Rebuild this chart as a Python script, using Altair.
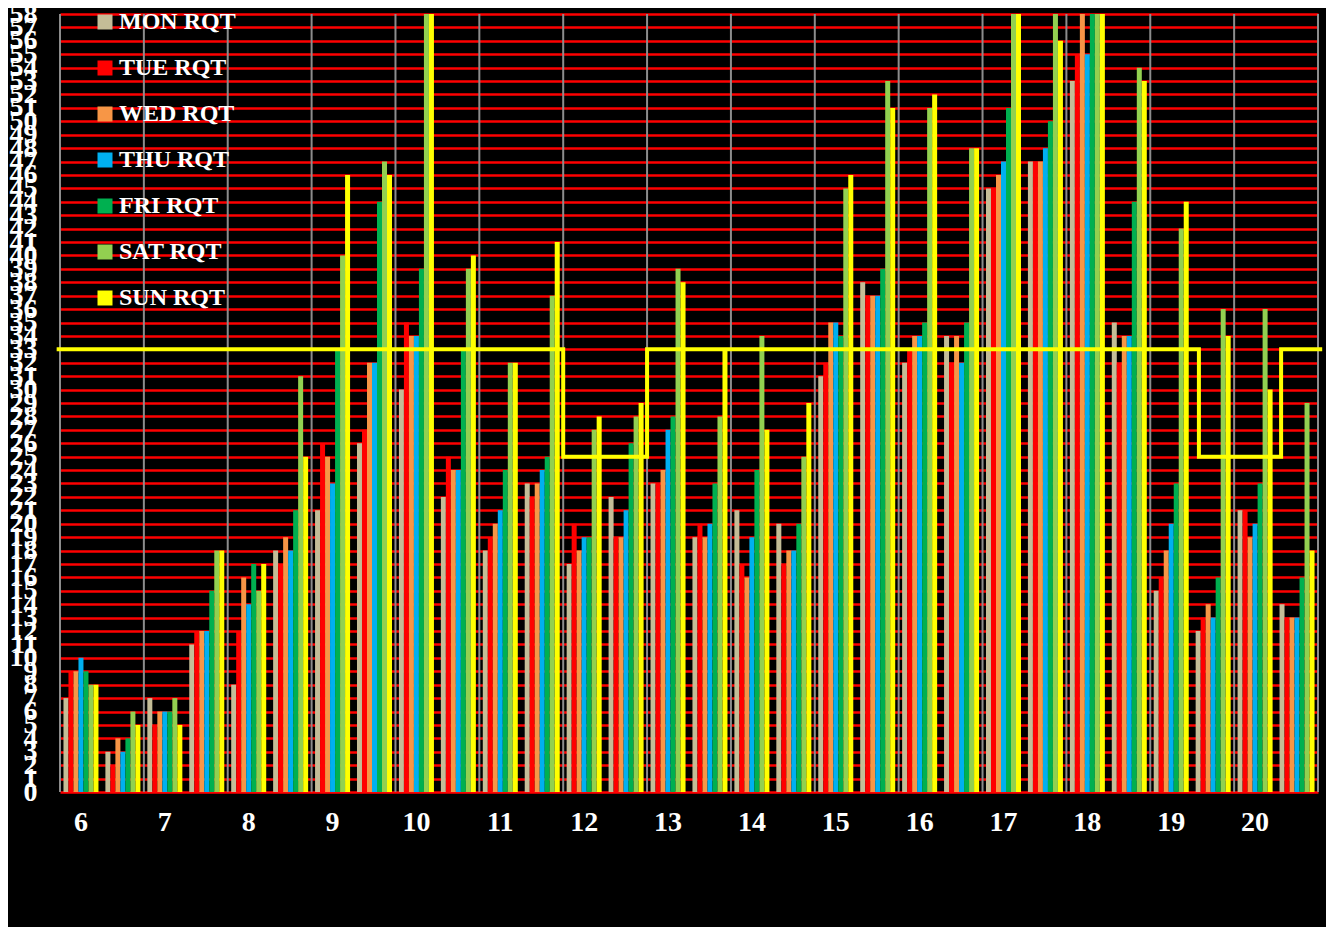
import altair as alt
import pandas as pd

# ---- data ----
slots = ["6:00", "6:30", "7:00", "7:30", "8:00", "8:30", "9:00", "9:30",
         "10:00", "10:30", "11:00", "11:30", "12:00", "12:30", "13:00", "13:30",
         "14:00", "14:30", "15:00", "15:30", "16:00", "16:30", "17:00", "17:30",
         "18:00", "18:30", "19:00", "19:30", "20:00", "20:30"]
days = ["MON RQT", "TUE RQT", "WED RQT", "THU RQT", "FRI RQT", "SAT RQT", "SUN RQT"]
day_colors = ["#C4BD97", "#FF0000", "#F79646", "#00B0F0", "#00B050", "#92D050", "#FFFF00"]

mon = [7, 3, 7, 11, 8, 18, 21, 26, 30, 22, 18, 23, 17, 22, 23, 19, 21, 20, 31, 38, 32, 34, 45, 47, 53, 35, 15, 12, 21, 14]
tue = [9, 2, 5, 12, 12, 17, 26, 27, 35, 25, 19, 22, 20, 19, 23, 20, 17, 17, 32, 37, 33, 32, 45, 47, 55, 32, 16, 13, 21, 13]
wed = [9, 4, 6, 12, 16, 19, 25, 32, 34, 24, 20, 23, 18, 19, 24, 19, 16, 18, 35, 37, 34, 34, 46, 47, 58, 34, 18, 14, 19, 13]
thu = [10, 3, 6, 12, 14, 18, 23, 32, 34, 24, 21, 24, 19, 21, 27, 20, 19, 18, 35, 37, 34, 32, 47, 48, 55, 34, 20, 13, 20, 13]
fri = [9, 4, 6, 15, 17, 21, 33, 44, 39, 33, 24, 25, 19, 26, 28, 23, 24, 20, 34, 39, 35, 35, 51, 50, 58, 44, 23, 16, 23, 16]
sat = [8, 6, 7, 18, 15, 31, 40, 47, 58, 39, 32, 37, 27, 28, 39, 28, 34, 25, 45, 53, 51, 48, 58, 58, 58, 54, 42, 36, 36, 29]
sun = [8, 5, 5, 18, 17, 25, 46, 46, 58, 40, 32, 41, 28, 29, 38, 33, 27, 29, 46, 51, 52, 48, 58, 56, 58, 53, 44, 34, 30, 18]

grid_hours = list(range(6, 22))
target_time = [5.96, 12.0, 13.0, 19.58, 20.56, 21.05]
target_level = [33, 25, 33, 25, 33, 33]
y_ticks = list(range(0, 59))

# ---- tables ----
rows = []
for d, vals in zip(days, [mon, tue, wed, thu, fri, sat, sun]):
    for s, v in zip(slots, vals):
        rows.append({"slot": s, "day": d, "value": v})
bars_df = pd.DataFrame(rows)
grid_df = pd.DataFrame({"hour": grid_hours})
target_df = pd.DataFrame({"hour": target_time, "value": target_level})

FONT = "Liberation Serif"
hour_scale = alt.Scale(domain=[6, 21], nice=False, zero=False)

y_enc = alt.Y(
    "value:Q",
    scale=alt.Scale(domain=[0, 58], nice=False),
    axis=alt.Axis(
        title=None, values=y_ticks, labelOverlap=False, domain=False, ticks=False,
        grid=True, gridColor="#FF0000", gridWidth=2.5, labelPadding=23,
        labelFont=FONT, labelFontSize=28, labelFontWeight="bold", labelColor="white",
    ),
)

rules = alt.Chart(grid_df).mark_rule(color="#8C8C8C", strokeWidth=2).encode(
    x=alt.X("hour:Q", scale=hour_scale, axis=None)
)

bars = alt.Chart(bars_df).mark_bar().encode(
    x=alt.X(
        "slot:N", sort=slots,
        scale=alt.Scale(paddingInner=0.165, paddingOuter=0.0825),
        axis=alt.Axis(
            title=None, labelAngle=0, ticks=False, domain=False, grid=False,
            labelExpr="indexof(datum.label, ':30') >= 0 ? '' : split(datum.label, ':')[0]",
            labelPadding=16, labelFont=FONT, labelFontSize=28, labelFontWeight="bold",
            labelColor="white",
        ),
    ),
    xOffset=alt.XOffset("day:N", sort=days),
    y=y_enc,
    color=alt.Color(
        "day:N", sort=days,
        scale=alt.Scale(domain=days, range=day_colors),
        legend=alt.Legend(
            title=None, orient="none", legendX=33, legendY=-4, direction="vertical",
            symbolType="square", symbolSize=225, symbolStrokeWidth=0,
            labelFont=FONT, labelFontSize=24, labelFontWeight="bold", labelColor="white",
            labelOffset=2, rowPadding=22, padding=0,
        ),
    ),
)

target = alt.Chart(target_df).mark_line(
    color="#FFFF00", strokeWidth=4, interpolate="step-after", clip=False
).encode(
    x=alt.X("hour:Q", scale=hour_scale, axis=None),
    y=y_enc,
)

chart = alt.layer(rules, bars, target).resolve_scale(x="independent").properties(
    width=1258, height=778,
    autosize=alt.AutoSizeParams(type="none"),
    padding={"left": 52, "top": 6, "right": 8, "bottom": 135},
).configure(background="black").configure_view(strokeWidth=0)

chart.save("out.html", embed_options={"renderer": "svg", "actions": False})
